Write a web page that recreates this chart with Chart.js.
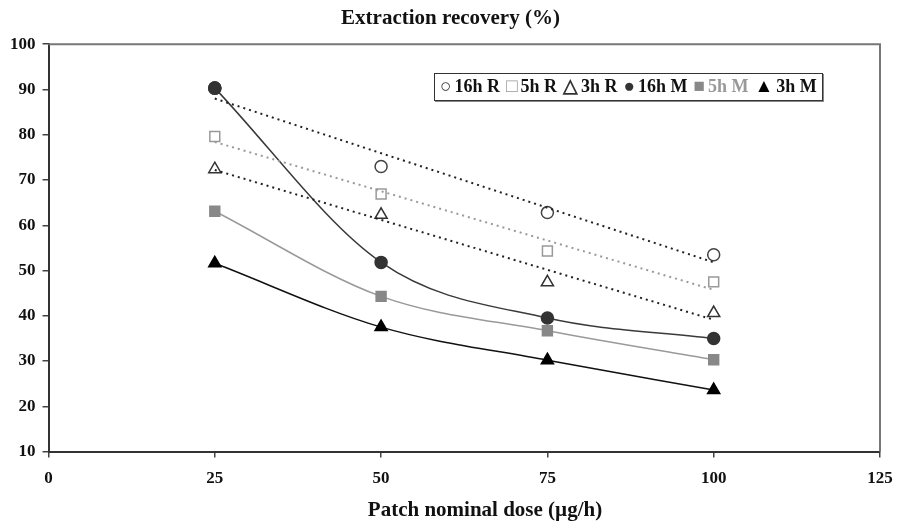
<!DOCTYPE html>
<html>
<head>
<meta charset="utf-8">
<script src="https://cdn.jsdelivr.net/npm/chart.js@4.4.0/dist/chart.umd.min.js"></script>
<style>
  html, body { margin: 0; padding: 0; background: #fff; }
  #wrap { position: relative; width: 898px; height: 526px; }
  #legend {
    position: absolute; left: 434px; top: 73px; height: 26px; line-height: 26px;
    border: 1px solid #333; box-shadow: 1px 1px 0 #888;
    padding: 0 5px; background: #fff;
    font: bold 18px "Liberation Serif", serif; color: #111; white-space: nowrap;
  }
  #legend .it { margin-right: 6px; }
  #legend .it:last-child { margin-right: 0; }
  #legend .sym { font-size: 19px; margin-right: 3px; }
</style>
</head>
<body>
<div id="wrap">
  <canvas id="myChart" width="898" height="526"></canvas>
  <div id="legend"></div>
</div>
<script>
// patch nominal dose (ug/h)
const doses = [25, 50, 75, 100];
// extraction recovery (%)
const r16h = [90.3, 73.0, 62.8, 53.5];
const r5h = [79.6, 66.9, 54.3, 47.5];
const r3h = [72.4, 62.3, 47.4, 40.6];
const m16h = [90.3, 51.8, 39.5, 35.0];
const m5h = [63.1, 44.3, 36.7, 30.3];
const m3h = [51.6, 37.5, 30.2, 23.6];

const seriesNames = ['16h R', '5h R', '3h R', '16h M', '5h M', '3h M'];
const xTicks = [0, 25, 50, 75, 100, 125];
const yTicks = [10, 20, 30, 40, 50, 60, 70, 80, 90, 100];
const xTitle = 'Patch nominal dose (µg/h)';

// legend (symbol, symbol colour, text colour)
const legendLook = [['○', '#333', '#111'], ['□', '#999', '#111'], ['△', '#333', '#111'],
  ['●', '#333', '#111'], ['■', '#888', '#999'], ['▲', '#000', '#111']];
document.getElementById('legend').innerHTML = seriesNames.map((n, i) =>
  `<span class="it"><span class="sym" style="color:${legendLook[i][1]}">${legendLook[i][0]}</span><span style="color:${legendLook[i][2]}">${n}</span></span>`).join('');

const pts = (ys) => doses.map((x, i) => ({ x, y: ys[i] }));

// least squares line, like the spreadsheet linear trendline
function trend(ys) {
  const n = doses.length;
  const mx = doses.reduce((a, b) => a + b, 0) / n;
  const my = ys.reduce((a, b) => a + b, 0) / n;
  let sxy = 0, sxx = 0;
  for (let i = 0; i < n; i += 1) {
    sxy += (doses[i] - mx) * (ys[i] - my);
    sxx += (doses[i] - mx) * (doses[i] - mx);
  }
  const b = sxy / sxx;
  const first = doses[0], last = doses[n - 1];
  return [{ x: first, y: my + b * (first - mx) }, { x: last, y: my + b * (last - mx) }];
}

const datasets = [
  // dotted trendlines for R
  { data: trend(r16h), showLine: true, borderColor: '#222', borderWidth: 2, borderDash: [2, 4], pointRadius: 0 },
  { data: trend(r5h), showLine: true, borderColor: '#999', borderWidth: 2, borderDash: [2, 4], pointRadius: 0 },
  { data: trend(r3h), showLine: true, borderColor: '#222', borderWidth: 2, borderDash: [2, 4], pointRadius: 0 },
  // curves + filled markers for M
  { data: pts(m16h), showLine: true, cubicInterpolationMode: 'monotone', borderColor: '#3a3a3a', borderWidth: 1.5,
    pointStyle: 'circle', pointRadius: 6, pointBackgroundColor: '#333', pointBorderColor: '#333' },
  { data: pts(m5h), showLine: true, cubicInterpolationMode: 'monotone', borderColor: '#9a9a9a', borderWidth: 1.5,
    pointStyle: 'rect', pointRadius: 7, pointBackgroundColor: '#888', pointBorderColor: '#888' },
  { data: pts(m3h), showLine: true, cubicInterpolationMode: 'monotone', borderColor: '#111', borderWidth: 1.5,
    pointStyle: 'triangle', pointRadius: 7, pointBackgroundColor: '#000', pointBorderColor: '#000' },
  // open markers for R
  { data: pts(r16h), showLine: false, pointStyle: 'circle', pointRadius: 6, pointBorderWidth: 1.5,
    pointBackgroundColor: 'rgba(0,0,0,0)', pointBorderColor: '#444' },
  { data: pts(r5h), showLine: false, pointStyle: 'rect', pointRadius: 7, pointBorderWidth: 1.5,
    pointBackgroundColor: '#fff', pointBorderColor: '#999' },
  { data: pts(r3h), showLine: false, pointStyle: 'triangle', pointRadius: 7, pointBorderWidth: 1.5,
    pointBackgroundColor: '#fff', pointBorderColor: '#333' },
];
// the 16h R point at 25 sits under the filled 16h M circle, draw that circle again on top
datasets.push(Object.assign({}, datasets[3], { showLine: false, data: pts(m16h).slice(0, 1) }));

const fam = '"Liberation Serif", serif';
const tickFont = { family: fam, weight: 'bold', size: 17 };

// grey frame on top/right + the x title, which sits a bit right of centre in the original
const frame = {
  id: 'frame',
  afterDatasetsDraw(chart) {
    const a = chart.chartArea;
    const c = chart.ctx;
    c.save();
    c.strokeStyle = '#777';
    c.lineWidth = 2;
    c.beginPath();
    c.moveTo(a.left, a.top);
    c.lineTo(a.right, a.top);
    c.lineTo(a.right, a.bottom);
    c.stroke();
    c.fillStyle = '#111';
    c.font = `bold 21px ${fam}`;
    c.textAlign = 'center';
    c.textBaseline = 'middle';
    c.fillText(xTitle, 485, 511);
    c.restore();
  },
};

new Chart(document.getElementById('myChart'), {
  type: 'scatter',
  data: { datasets },
  plugins: [frame],
  options: {
    responsive: false,
    animation: false,
    layout: { padding: { left: 3, right: 0, top: 0, bottom: 26 } },
    plugins: {
      legend: { display: false },
      tooltip: { enabled: false },
      title: {
        display: true, text: 'Extraction recovery (%)', color: '#111',
        font: { family: fam, weight: 'bold', size: 21 }, padding: { top: 6, bottom: 13 },
      },
    },
    scales: {
      x: {
        type: 'linear', min: 0, max: 125,
        afterBuildTicks: (s) => { s.ticks = xTicks.map((v) => ({ value: v })); },
        afterFit: (s) => { s.paddingRight = 18; },
        ticks: { color: '#111', font: tickFont, padding: 11 },
        grid: { drawOnChartArea: false, drawTicks: true, tickLength: 6, color: '#444', lineWidth: 1.5 },
        border: { color: '#333', width: 2 },
      },
      y: {
        type: 'linear', min: 10, max: 100,
        afterBuildTicks: (s) => { s.ticks = yTicks.map((v) => ({ value: v })); },
        ticks: { color: '#111', font: tickFont, padding: 7 },
        grid: { drawOnChartArea: false, drawTicks: true, tickLength: 6, color: '#444', lineWidth: 1.5 },
        border: { color: '#333', width: 2 },
      },
    },
  },
});
</script>
</body>
</html>
